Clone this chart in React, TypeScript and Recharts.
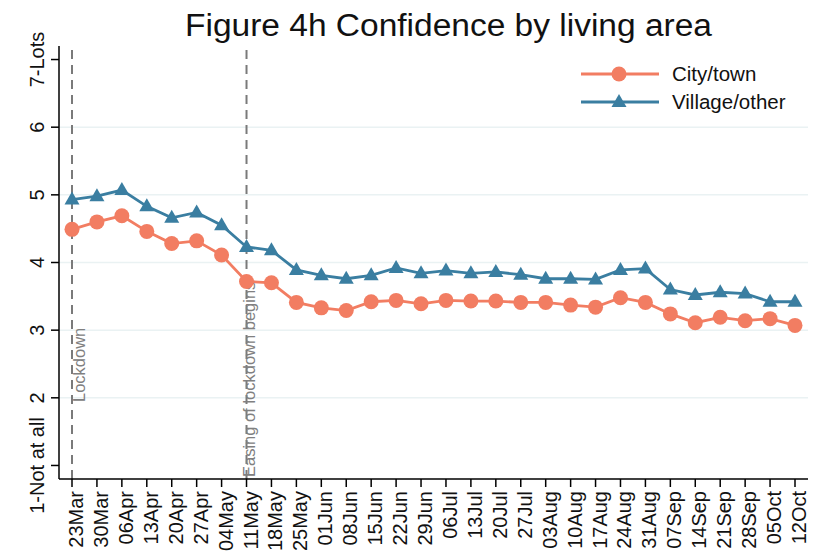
import { LineChart, Line, XAxis, YAxis, CartesianGrid, ReferenceLine, Legend } from 'recharts';

const weeks = [
  '23Mar', '30Mar', '06Apr', '13Apr', '20Apr', '27Apr', '04May', '11May', '18May', '25May',
  '01Jun', '08Jun', '15Jun', '22Jun', '29Jun', '06Jul', '13Jul', '20Jul', '27Jul', '03Aug',
  '10Aug', '17Aug', '24Aug', '31Aug', '07Sep', '14Sep', '21Sep', '28Sep', '05Oct', '12Oct',
];
const cityTown = [
  4.49, 4.6, 4.69, 4.46, 4.28, 4.32, 4.11, 3.72, 3.7, 3.41,
  3.33, 3.29, 3.42, 3.44, 3.39, 3.44, 3.43, 3.43, 3.41, 3.41,
  3.37, 3.34, 3.48, 3.41, 3.24, 3.11, 3.19, 3.14, 3.17, 3.07,
];
const villageOther = [
  4.93, 4.98, 5.07, 4.83, 4.66, 4.74, 4.55, 4.23, 4.18, 3.89,
  3.81, 3.76, 3.81, 3.92, 3.84, 3.88, 3.84, 3.86, 3.82, 3.76,
  3.76, 3.75, 3.89, 3.91, 3.6, 3.52, 3.56, 3.54, 3.42, 3.42,
];
const yTicks = [1, 2, 3, 4, 5, 6, 7];
const yTickNames: Record<number, string> = { 1: '1-Not at all', 7: '7-Lots' };
const gridValues = [2, 3, 4, 5, 6];
const events = [
  { week: '23Mar', text: 'Lockdown' },
  { week: '11May', text: 'Easing of lockdown begins' },
];

const data = weeks.map((week, i) => ({ week, city: cityTown[i], village: villageOther[i] }));

const FONT = '"Liberation Sans", Arial, sans-serif';
const CITY = '#F27D62';
const VILLAGE = '#3A7EA1';

function XTick({ x, y, payload }: any) {
  const bx = x + 11;
  return (
    <text x={bx} y={y} transform={`rotate(-90, ${bx}, ${y})`} textAnchor="end"
      fontSize={20} fontFamily={FONT} fill="#111">
      {payload.value}
    </text>
  );
}

function YTick({ x, y, payload }: any) {
  const bx = x - 5;
  return (
    <text x={bx} y={y} transform={`rotate(-90, ${bx}, ${y})`} textAnchor="middle"
      fontSize={20} fontFamily={FONT} fill="#111">
      {yTickNames[payload.value] ?? payload.value}
    </text>
  );
}

// label sits just right of the dashed line, reading upwards
function eventLabel(text: string, lift: number, shift: number) {
  return (props: any) => {
    const vb = props.viewBox || {};
    const bx = vb.x + shift;
    const by = vb.y + vb.height - lift;
    return (
      <text x={bx} y={by} transform={`rotate(-90, ${bx}, ${by})`} textAnchor="start"
        fontSize={16.5} fontFamily={FONT} fill="#808080">
        {text}
      </text>
    );
  };
}

function CityDot({ cx, cy, index }: any) {
  return <circle key={`c${index}`} cx={cx} cy={cy} r={7.5} fill={CITY} />;
}

function VillageDot({ cx, cy, index }: any) {
  return (
    <polygon key={`v${index}`} fill={VILLAGE}
      points={`${cx},${cy - 8} ${cx - 7.5},${cy + 5} ${cx + 7.5},${cy + 5}`} />
  );
}

// zero-height box so the legend doesn't push the plot down
function LegendBox({ payload }: any) {
  return (
    <div style={{ height: 0, position: 'relative' }}>
      <svg width={240} height={60} style={{ position: 'absolute', left: 0, top: 0, overflow: 'visible' }}>
        {(payload || []).map((p: any, i: number) => {
          const y = 16 + i * 28;
          const isCity = p.dataKey === 'city';
          return (
            <g key={p.dataKey}>
              <line x1={6} x2={84} y1={y} y2={y} stroke={p.color} strokeWidth={2.8} />
              {isCity ? (
                <circle cx={44} cy={y} r={7.5} fill={p.color} />
              ) : (
                <polygon fill={p.color} points={`44,${y - 8} 36.5,${y + 5} 51.5,${y + 5}`} />
              )}
              <text x={97} y={y + 7} fontSize={20.5} fontFamily={FONT} fill="#111">{p.value}</text>
            </g>
          );
        })}
      </svg>
    </div>
  );
}

export default function App() {
  return (
    <div style={{ position: 'absolute', left: 0, top: 0, width: 819, height: 553, background: '#fff' }}>
      <svg width={819} height={46} style={{ position: 'absolute', left: 0, top: 0 }}>
        <text x={185} y={36} textLength={527} lengthAdjust="spacingAndGlyphs"
          fontSize={31} fontFamily={FONT} fill="#111">
          Figure 4h Confidence by living area
        </text>
      </svg>
      <LineChart width={819} height={553} data={data}
        margin={{ top: 46, right: 11, left: 0, bottom: 0 }}>
        <CartesianGrid vertical={false} stroke="#EAF2F3" strokeWidth={1.5}
          horizontalValues={gridValues} />
        <XAxis dataKey="week" interval={0} height={74} padding={{ left: 13, right: 13 }}
          tick={<XTick />} tickSize={8} tickMargin={4}
          axisLine={{ stroke: '#000', strokeWidth: 1.5 }} tickLine={{ stroke: '#000', strokeWidth: 1.5 }} />
        <YAxis width={59} domain={[0.8, 7.2]} ticks={yTicks} allowDataOverflow
          tick={<YTick />} tickSize={8}
          axisLine={{ stroke: '#000', strokeWidth: 1.5 }} tickLine={{ stroke: '#000', strokeWidth: 1.5 }} />
        {events.map((ev, i) => (
          <ReferenceLine key={ev.week} x={ev.week} stroke="#7A7A7A" strokeWidth={2}
            strokeDasharray="9 6"
            label={eventLabel(ev.text, i === 0 ? 77 : 2, i === 0 ? 13 : 8)} />
        ))}
        <Line dataKey="city" name="City/town" stroke={CITY} strokeWidth={2.8}
          dot={CityDot} activeDot={false} isAnimationActive={false} />
        <Line dataKey="village" name="Village/other" stroke={VILLAGE} strokeWidth={2.8}
          dot={VillageDot} activeDot={false} isAnimationActive={false} />
        <Legend content={<LegendBox />} verticalAlign="top" align="left"
          wrapperStyle={{ position: 'absolute', left: 575, top: 58, width: 240 }} />
      </LineChart>
    </div>
  );
}
